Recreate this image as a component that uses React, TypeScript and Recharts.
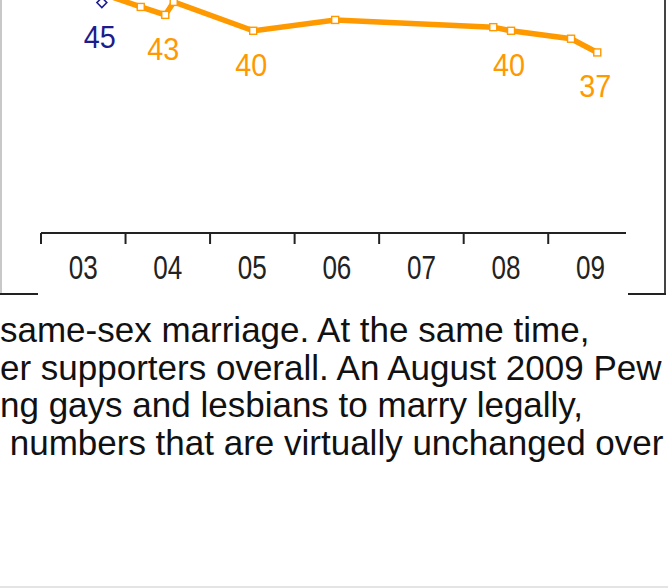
import React from 'react';
import { LineChart, Line, XAxis, YAxis, LabelList } from 'recharts';

// year boundaries on the axis and the two-digit labels drawn between them
const yearTicks = [2003, 2004, 2005, 2006, 2007, 2008, 2009];
const yearLabels = ['03', '04', '05', '06', '07', '08', '09'];

// orange series (survey dates as fractional years)
const orangeTimes = [2003.76, 2004.18, 2004.47, 2004.57, 2005.51, 2006.48, 2008.35, 2008.56, 2009.27, 2009.58];
const orangeValues = [45.0, 43.3, 42.2, 44.0, 40.0, 41.5, 40.5, 40.0, 38.9, 37.0];
const orangeLabels = ['', '', '43', '', '40', '', '', '40', '', '37'];

// blue series, only its lowest point is inside the crop
const blueTimes = [2003.72, 2004.1];
const blueValues = [43.9, 51.0];
const blueLabels = ['45', ''];

const textLines = [
  'same-sex marriage. At the same time,',
  'er supporters overall. An August 2009 Pew',
  'ng gays and lesbians to marry legally,',
  ' numbers that are virtually unchanged over',
];

const ORANGE = '#ff9900';
const NAVY = '#1c1c8c';
const narrowFont = "'Liberation Sans Narrow', 'Arial Narrow', 'Liberation Sans', sans-serif";

const orangeData = orangeTimes.map((t, i) => ({ t, v: orangeValues[i], label: orangeLabels[i] }));
const blueData = blueTimes.map((t, i) => ({ t, v: blueValues[i], label: blueLabels[i] }));
const axisTicks = yearTicks.flatMap(y => [y, y + 0.5]);

const YearTick = (props: any) => {
  const { x, y, payload } = props;
  const v = payload.value;
  if (Number.isInteger(v)) {
    return <line x1={x} x2={x} y1={y} y2={y + 11} stroke="#222" strokeWidth={2} />;
  }
  return (
    <text
      x={x}
      y={y + 46}
      textAnchor="middle"
      fontSize={33}
      fontFamily={narrowFont}
      fill="#222"
      textLength={29}
      lengthAdjust="spacingAndGlyphs"
    >
      {yearLabels[Math.floor(v) - yearTicks[0]]}
    </text>
  );
};

const SquareDot = (props: any) => {
  const { cx, cy } = props;
  if (cx == null || cy == null) return null;
  return <rect x={cx - 3.5} y={cy - 3.5} width={7} height={7} fill="#fff" stroke={ORANGE} strokeWidth={1.4} />;
};

const DiamondDot = (props: any) => {
  const { cx, cy } = props;
  if (cx == null || cy == null) return null;
  return (
    <polygon
      points={`${cx},${cy - 5} ${cx + 5},${cy} ${cx},${cy + 5} ${cx - 5},${cy}`}
      fill="#fff"
      stroke={NAVY}
      strokeWidth={1.5}
    />
  );
};

const valueLabel = (color: string) => (props: any) => {
  const { x, y, value } = props;
  if (!value) return null;
  return (
    <text
      x={x - 2}
      y={y + 45}
      textAnchor="middle"
      fontSize={32}
      fontFamily={narrowFont}
      fill={color}
      textLength={32}
      lengthAdjust="spacingAndGlyphs"
    >
      {value}
    </text>
  );
};

export default function App() {
  return (
    <div style={{ position: 'absolute', left: 0, top: 0, width: 668, height: 588, overflow: 'hidden', background: '#fff' }}>
      <div style={{ position: 'absolute', left: 0, top: -27 }}>
        <LineChart width={668} height={320} margin={{ top: 0, right: 42, bottom: 0, left: 41 }}>
          <XAxis
            type="number"
            dataKey="t"
            domain={[2003, 2009.92]}
            allowDataOverflow
            ticks={axisTicks}
            interval={0}
            tickSize={0}
            tickMargin={0}
            tickLine={false}
            tick={<YearTick />}
            axisLine={{ stroke: '#222', strokeWidth: 2 }}
            height={60}
          />
          <YAxis type="number" domain={[12, 48]} allowDataOverflow hide />
          <Line
            data={blueData}
            dataKey="v"
            stroke={NAVY}
            strokeWidth={2}
            dot={<DiamondDot />}
            isAnimationActive={false}
          >
            <LabelList dataKey="label" content={valueLabel(NAVY)} />
          </Line>
          <Line
            data={orangeData}
            dataKey="v"
            stroke={ORANGE}
            strokeWidth={5.5}
            dot={<SquareDot />}
            isAnimationActive={false}
          >
            <LabelList dataKey="label" content={valueLabel(ORANGE)} />
          </Line>
        </LineChart>
      </div>

      {/* frame of the cropped chart image */}
      <svg width={668} height={588} style={{ position: 'absolute', left: 0, top: 0 }}>
        <line x1={1} x2={1} y1={0} y2={295} stroke="#c8c8c8" strokeWidth={2} />
        <line x1={0} x2={38} y1={294} y2={294} stroke="#222" strokeWidth={2} />
        <line x1={665} x2={665} y1={0} y2={295} stroke="#444" strokeWidth={2} />
        <line x1={628} x2={666} y1={294} y2={294} stroke="#222" strokeWidth={2} />
        <line x1={0} x2={668} y1={587} y2={587} stroke="#e4e4e4" strokeWidth={2} />
      </svg>

      <div
        style={{
          position: 'absolute',
          left: 0,
          top: 311,
          fontFamily: "'Liberation Sans', Arial, sans-serif",
          fontSize: 35,
          lineHeight: '37.5px',
          color: '#111',
          whiteSpace: 'pre',
        }}
      >
        {textLines.map((line, i) => (
          <div key={i}>{line}</div>
        ))}
      </div>
    </div>
  );
}
